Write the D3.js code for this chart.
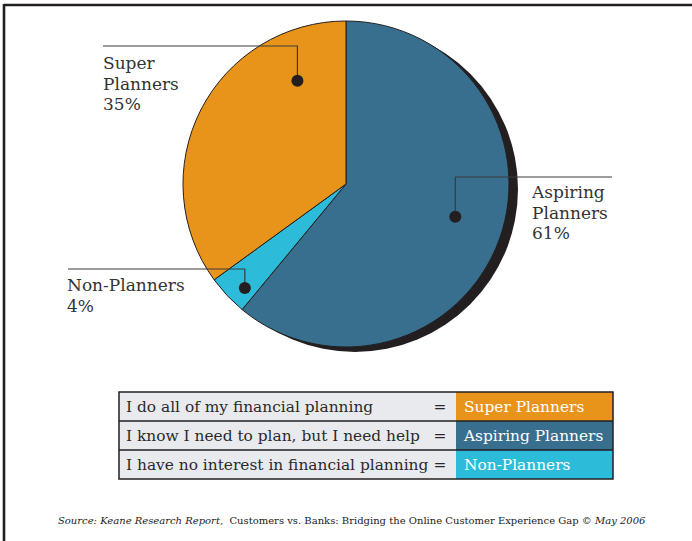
<!DOCTYPE html>
<html>
<head>
<meta charset="utf-8">
<script src="https://cdn.jsdelivr.net/npm/d3@7"></script>
<style>
  html, body { margin: 0; padding: 0; background: #fff; }
  svg { display: block; }
  text { font-family: "DejaVu Serif", serif; }
</style>
</head>
<body>
<script>
// Survey segments, in drawing order clockwise from 12 o'clock
const segments = ["Aspiring Planners", "Non-Planners", "Super Planners"];
const shares = [61, 4, 35];
const labelLines = [["Aspiring", "Planners"], ["Non-Planners"], ["Super", "Planners"]];

// Legend table rows
const legendStatements = [
  "I do all of my financial planning",
  "I know I need to plan, but I need help",
  "I have no interest in financial planning"
];
const legendSegments = ["Super Planners", "Aspiring Planners", "Non-Planners"];

const W = 692, H = 541;
const ink = "#231f20";
const color = d3.scaleOrdinal()
  .domain(["Super Planners", "Aspiring Planners", "Non-Planners"])
  .range(["#e8941a", "#386e8e", "#2cbcda"]);

const svg = d3.select("body").append("svg").attr("width", W).attr("height", H);

// Frame (top and left rules)
svg.append("line").attr("x1", 4).attr("x2", W).attr("y1", 5).attr("y2", 5)
  .attr("stroke", ink).attr("stroke-width", 2.6);
svg.append("line").attr("x1", 4).attr("x2", 4).attr("y1", 4).attr("y2", H)
  .attr("stroke", ink).attr("stroke-width", 2.6);

// Pie
const cx = 346, cy = 184, R = 163;
const pie = d3.pie().sort(null).value(d => d.v).startAngle(0).endAngle(2 * Math.PI);
const arcs = pie(segments.map((s, i) => ({ name: s, v: shares[i], lines: labelLines[i] })));
const arc = d3.arc().innerRadius(0).outerRadius(R);

const g = svg.append("g").attr("transform", `translate(${cx},${cy})`);
// drop shadow
g.append("circle").attr("cx", 9).attr("cy", 5).attr("r", R).attr("fill", ink);
g.selectAll("path.slice").data(arcs).join("path")
  .attr("class", "slice")
  .attr("d", arc)
  .attr("fill", d => color(d.data.name))
  .attr("stroke", ink).attr("stroke-width", 1);

// Callouts: anchor dot placed inside each slice (fraction along slice, fraction of radius),
// elbow leader to a horizontal rule above the text block.
const callouts = {
  "Super Planners":    { t: 0.80, r: 0.70, ruleY: 46,  x0: 103, x1: 298, textX: 103, base: 69 },
  "Aspiring Planners": { t: 0.486, r: 0.70, ruleY: 177, x0: 455, x1: 612, textX: 532, base: 198 },
  "Non-Planners":      { t: 0.32, r: 0.89, ruleY: 269, x0: 68,  x1: 245, textX: 67,  base: 291 }
};

arcs.forEach(d => {
  const c = callouts[d.data.name];
  const a = d.startAngle + c.t * (d.endAngle - d.startAngle);
  const px = cx + Math.sin(a) * R * c.r;
  const py = cy - Math.cos(a) * R * c.r;
  svg.append("path")
    .attr("d", `M${c.x0},${c.ruleY}H${c.x1}M${px},${c.ruleY}V${py}`)
    .attr("fill", "none").attr("stroke", "#3a3a3a").attr("stroke-width", 1.2);
  svg.append("circle").attr("cx", px).attr("cy", py).attr("r", 6).attr("fill", ink);
  const t = svg.append("text").attr("x", c.textX).attr("y", c.base)
    .attr("font-size", 17).attr("fill", "#333");
  const lines = d.data.lines.concat([d.data.v + "%"]);
  lines.forEach((ln, i) => {
    t.append("tspan").attr("x", c.textX).attr("dy", i === 0 ? 0 : 20.5).text(ln);
  });
});

// Legend table
const tx0 = 119, tx1 = 613, tsplit = 456, ty0 = 392, rowH = 29;
const y = d3.scaleBand().domain(d3.range(legendStatements.length))
  .range([ty0, ty0 + rowH * legendStatements.length]).padding(0);
const tbl = svg.append("g");
const fs = 15.4;
legendStatements.forEach((s, i) => {
  const yy = y(i);
  tbl.append("rect").attr("x", tx0).attr("y", yy).attr("width", tsplit - tx0).attr("height", rowH)
    .attr("fill", "#e9eaee");
  tbl.append("rect").attr("x", tsplit).attr("y", yy).attr("width", tx1 - tsplit).attr("height", rowH)
    .attr("fill", color(legendSegments[i]));
  tbl.append("text").attr("x", 126).attr("y", yy + rowH / 2 + 5.5)
    .attr("font-size", fs).attr("fill", "#2a2a2a").text(s);
  tbl.append("text").attr("x", 440).attr("y", yy + rowH / 2 + 5.5).attr("text-anchor", "middle")
    .attr("font-size", fs).attr("fill", "#2a2a2a").text("=");
  tbl.append("text").attr("x", 464).attr("y", yy + rowH / 2 + 5.5)
    .attr("font-size", fs).attr("fill", "#fff").text(legendSegments[i]);
});
// row rules and outline
d3.range(1, legendStatements.length).forEach(i => {
  tbl.append("line").attr("x1", tx0).attr("x2", tx1).attr("y1", y(i)).attr("y2", y(i))
    .attr("stroke", ink).attr("stroke-width", 1.3);
});
tbl.append("rect").attr("x", tx0).attr("y", ty0).attr("width", tx1 - tx0)
  .attr("height", rowH * legendStatements.length)
  .attr("fill", "none").attr("stroke", ink).attr("stroke-width", 1.5);

// Source note
const src = svg.append("text").attr("x", 58).attr("y", 524).attr("font-size", 10).attr("fill", "#222");
src.append("tspan").attr("font-style", "italic").text("Source: Keane Research Report,");
src.append("tspan").text("\u00a0 Customers vs. Banks: Bridging the Online Customer Experience Gap ");
src.append("tspan").attr("font-style", "italic").text("\u00a9 May 2006");
</script>
</body>
</html>
